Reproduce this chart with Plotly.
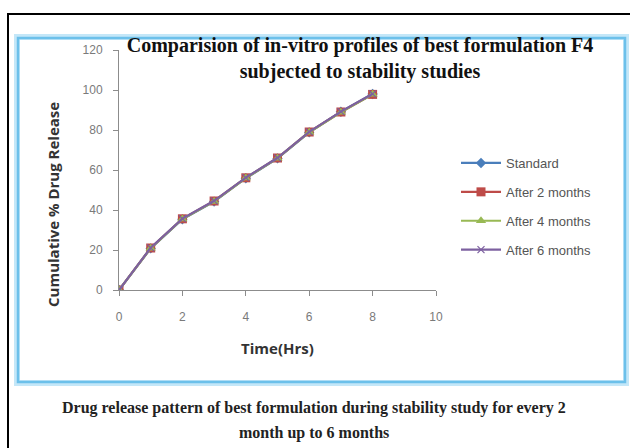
import plotly.graph_objects as go

hours = [0, 1, 2, 3, 4, 5, 6, 7, 8]
standard = [0, 20.8, 35.4, 44.2, 55.9, 65.8, 78.8, 89.1, 98.0]
after_2_months = [0, 21.0, 35.6, 44.5, 56.1, 66.0, 79.0, 89.0, 97.8]
after_4_months = [0, 20.9, 35.5, 44.3, 56.0, 65.9, 78.9, 88.9, 97.9]
after_6_months = [0, 21.1, 35.7, 44.6, 56.2, 66.1, 79.1, 89.2, 98.1]

series_names = ["Standard", "After 2 months", "After 4 months", "After 6 months"]
series_values = [standard, after_2_months, after_4_months, after_6_months]
colors = ["#4A7EBB", "#BE4B48", "#98B954", "#7D60A0"]
symbols = ["diamond", "square", "triangle-up", "x-thin-open"]
marker_sizes = [8, 9, 9, 7]
x_tick_values = [0, 2, 4, 6, 8, 10]
y_tick_values = [0, 20, 40, 60, 80, 100, 120]

W, H = 630, 448
L, R, T, B = 119, 436, 50, 290  # plot area in pixels


def px(x):
    return (x - L) / (R - L)


def py(y):
    return (B - y) / (B - T)


fig = go.Figure()
for name, vals, col, sym, ms in zip(series_names, series_values, colors, symbols, marker_sizes):
    fig.add_trace(go.Scatter(
        x=hours, y=vals, name=name, mode="lines+markers",
        legendgroup=name,
        line=dict(color=col, width=2.2),
        marker=dict(symbol=sym, size=ms, color=col,
                    line=dict(color=col, width=1.2 if sym == "x-thin-open" else 0)),
    ))

fig.update_layout(
    width=W, height=H,
    margin=dict(l=L, r=W - R, t=T, b=H - B),
    paper_bgcolor="white", plot_bgcolor="white",
    showlegend=True,
    legend=dict(x=px(456), y=py(148), xanchor="left", yanchor="top",
                font=dict(family="Liberation Sans", size=13, color="#555555"),
                tracegroupgap=9, bgcolor="rgba(0,0,0,0)", itemwidth=40),
    title=dict(
        text="<b>Comparision of in-vitro profiles of best formulation F4<br>subjected to stability studies</b>",
        xref="container", yref="container", x=360 / W, y=1 - 52 / H,
        xanchor="center", yanchor="top",
        font=dict(family="Liberation Serif", size=20, color="#111111"),
    ),
    font=dict(family="Liberation Sans"),
)

fig.update_xaxes(
    range=[0, 10], tickvals=x_tick_values, showgrid=False, zeroline=False,
    showline=True, linecolor="#8c8c8c", linewidth=1,
    ticks="outside", ticklen=5, tickcolor="#8c8c8c",
    tickfont=dict(family="Liberation Sans", size=12, color="#7a7a7a"),
    ticklabelstandoff=11,
    title=dict(text="<b>Time(Hrs)</b>", font=dict(family="Open Sans", size=15, color="#333333"), standoff=20),
)
fig.update_yaxes(
    range=[0, 120], tickvals=y_tick_values, showgrid=False, zeroline=False,
    showline=True, linecolor="#8c8c8c", linewidth=1,
    ticks="outside", ticklen=5, tickcolor="#8c8c8c",
    tickfont=dict(family="Liberation Sans", size=12, color="#7a7a7a"),
    ticklabelstandoff=8,
)

# Y axis title placed as annotation (offset lower, as in the reference)
fig.add_annotation(
    text="<b>Cumulative % Drug Release</b>", textangle=-90,
    xref="paper", yref="paper", x=px(53), y=py(205),
    showarrow=False, xanchor="center", yanchor="middle",
    font=dict(family="Open Sans", size=15, color="#333333"),
)

# Caption below the chart frame
fig.add_annotation(
    text="<b>Drug release pattern of best formulation during stability study for every 2</b>",
    xref="paper", yref="paper", x=px(314), y=py(408),
    showarrow=False, xanchor="center", yanchor="middle",
    font=dict(family="Liberation Serif", size=16, color="#222222"),
)
fig.add_annotation(
    text="<b>month up to 6 months</b>",
    xref="paper", yref="paper", x=px(314), y=py(433),
    showarrow=False, xanchor="center", yanchor="middle",
    font=dict(family="Liberation Serif", size=16, color="#222222"),
)

# Outer black border
fig.add_shape(type="rect", xref="paper", yref="paper",
              x0=px(8), x1=px(640), y0=py(14), y1=py(470),
              line=dict(color="black", width=2), layer="below")
# Light blue chart frame (soft double line)
fig.add_shape(type="rect", xref="paper", yref="paper",
              x0=px(17), x1=px(626), y0=py(37), y1=py(383),
              line=dict(color="#c4e7f8", width=6), layer="below")
fig.add_shape(type="rect", xref="paper", yref="paper",
              x0=px(18), x1=px(625), y0=py(38), y1=py(382),
              line=dict(color="#6cc0ea", width=2.5), layer="below")

fig.write_html("out.html")
